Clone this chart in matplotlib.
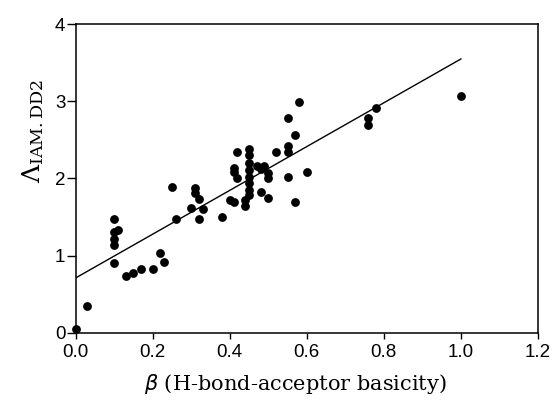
import matplotlib
matplotlib.use("Agg")
import matplotlib.pyplot as plt
import numpy as np

beta = [0.00, 0.03, 0.10, 0.10, 0.10, 0.10, 0.11, 0.10, 0.13, 0.15, 0.17, 0.20,
        0.22, 0.23, 0.25, 0.26, 0.30, 0.31, 0.31, 0.32, 0.32, 0.33, 0.38, 0.40,
        0.41, 0.41, 0.41, 0.42, 0.42, 0.45, 0.45, 0.45, 0.45, 0.45, 0.45, 0.45,
        0.45, 0.44, 0.44, 0.47, 0.48, 0.48, 0.49, 0.50, 0.50, 0.50, 0.52, 0.55,
        0.55, 0.55, 0.55, 0.57, 0.57, 0.58, 0.60, 0.76, 0.76, 0.78, 1.00]
lam = [0.05, 0.35, 1.48, 1.30, 1.22, 1.14, 1.33, 0.91, 0.74, 0.78, 0.83, 0.83,
       1.03, 0.92, 1.89, 1.47, 1.62, 1.88, 1.81, 1.74, 1.47, 1.60, 1.50, 1.72,
       1.69, 2.14, 2.09, 2.35, 2.01, 2.38, 2.30, 2.20, 2.11, 2.02, 1.94, 1.85,
       1.79, 1.72, 1.64, 2.16, 2.12, 1.83, 2.16, 2.07, 2.00, 1.75, 2.35, 2.79,
       2.42, 2.35, 2.02, 2.56, 1.69, 2.99, 2.08, 2.78, 2.69, 2.92, 3.07]

fit_intercept = 0.71
fit_slope = 2.84
fit_x = [0.0, 1.0]

xticks = [0.0, 0.2, 0.4, 0.6, 0.8, 1.0, 1.2]
xticklabels = ["0.0", "0.2", "0.4", "0.6", "0.8", "1.0", "1.2"]
yticks = [0, 1, 2, 3, 4]
yticklabels = ["0", "1", "2", "3", "4"]

fig = plt.figure(figsize=(5.54, 4.09), dpi=100)
ax = fig.add_axes([0.1366, 0.1866, 0.8344, 0.754])

ax.scatter(beta, lam, s=40, color="black", zorder=3, clip_on=False, linewidths=0)
fx = np.array(fit_x)
ax.plot(fx, fit_intercept + fit_slope * fx, color="black", lw=1.0, zorder=2)

ax.set_xlim(0, 1.2)
ax.set_ylim(0, 4)
ax.set_xticks(xticks)
ax.set_xticklabels(xticklabels)
ax.set_yticks(yticks)
ax.set_yticklabels(yticklabels)
ax.tick_params(axis="x", direction="out", length=4.3, width=1.0, labelsize=13.5, pad=4)
ax.tick_params(axis="y", direction="out", length=6.5, width=1.0, labelsize=13.5, pad=1)
for lab in ax.get_xticklabels() + ax.get_yticklabels():
    lab.set_family("Liberation Sans")
for s in ax.spines.values():
    s.set_linewidth(1.1)

fig.text(295 / 554, 1 - 384 / 409, r"$\beta$ (H-bond-acceptor basicity)",
         ha="center", va="center", fontsize=15, family="DejaVu Serif")
fig.text(33 / 554, 1 - 131 / 409, r"$\mathit{\Lambda}_{\mathrm{IAM.DD2}}$",
         ha="center", va="center", rotation=90, fontsize=18,
         math_fontfamily="dejavuserif")

fig.savefig("out.png", dpi=100)
